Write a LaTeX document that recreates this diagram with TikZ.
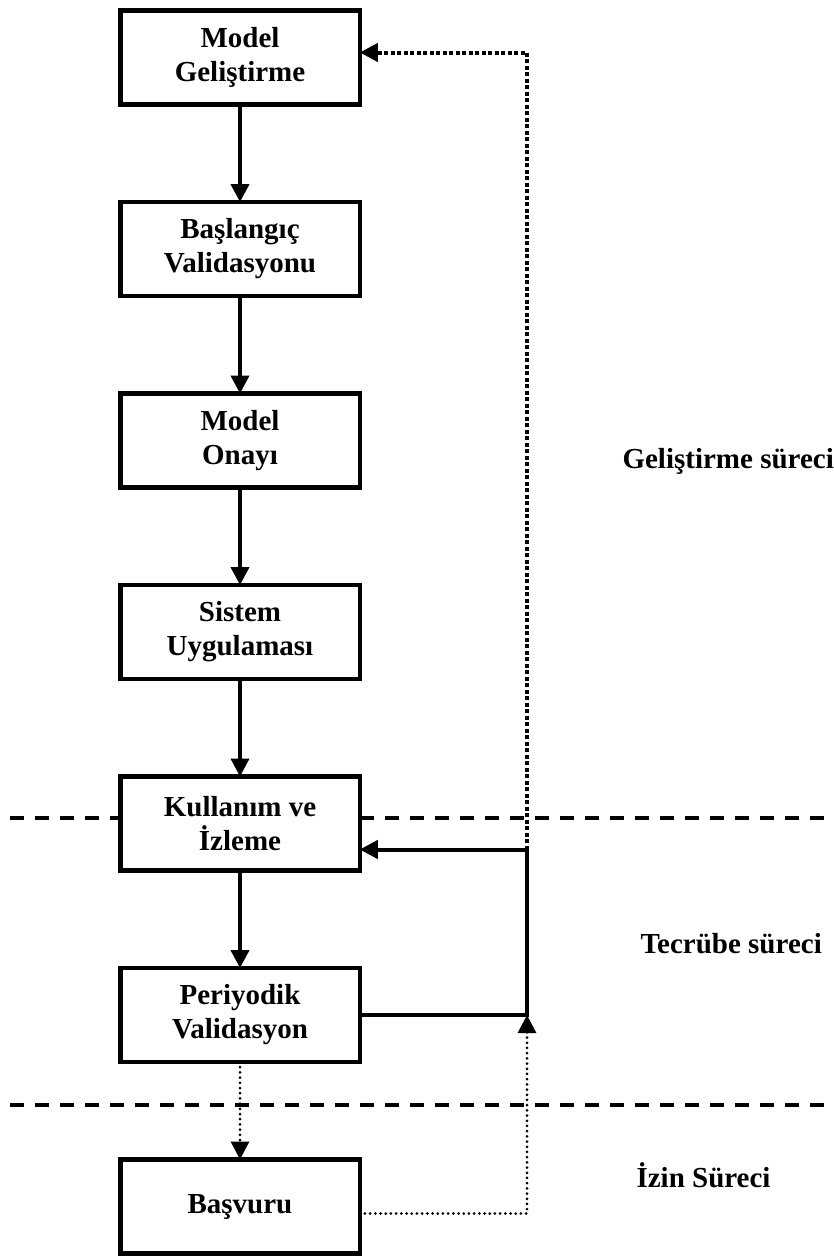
\documentclass[tikz,border=0pt]{standalone}
\usepackage{fontspec}
\setmainfont{Liberation Serif}
\usepackage{xcolor}
\usepackage{tikz}
\usetikzlibrary{arrows.meta, chains, positioning}

\begin{document}
\begin{tikzpicture}[
            x=1pt, y=-1pt,
            start chain=going below,
            node distance=97.5pt,
            font=\fontsize{29}{34}\selectfont\bfseries,
            box/.style={
                draw,
                fill=white,
                line width=4.5pt,
                minimum width=239.5pt,
                minimum height=94pt,
                on chain,
                inner sep=0pt,
                outer sep=0pt,
                align=center
  },
  arr/.style={
    -{Triangle[length=18pt,width=18pt]},
    line width=4pt
  },
  thickdots/.style={
    arr,
    dash pattern=on 4pt off 2.5pt
  },
  thindots/.style={
    -{Triangle[length=18pt,width=18pt]},
    line width=3pt,
    line cap=round,
    dash pattern=on 0pt off 5.2pt
  },
  sep/.style={
    line width=4pt,
    dash pattern=on 14pt off 11pt
  }
]
\useasboundingbox (0,0) rectangle (834,1258);

% Separators (behind the boxes)
\draw [sep] (10,818) -- (834,818);
\draw [sep] (10,1105) -- (834,1105);

% Boxes
\node [box] at (240,57.5) (mg) {Model\\Geliştirme};
\node [box] (bv) {Başlangıç\\Validasyonu};
\node [box] (mo) {Model\\Onayı};
\node [box] (su) {Sistem\\Uygulaması};
\node [box] (ki) {Kullanım ve\\İzleme};
\node [box] (pv) {Periyodik\\Validasyon};
\node [box] (bs) {Başvuru};

% Labels of the phases
\node [anchor=base west] at (619,468) (gs) {Geliştirme süreci};
\node [anchor=base west] at (637,953) (ts) {Tecrübe süreci};
\node [anchor=base west] at (633,1187) (is) {İzin Süreci};

% Main flow
\draw [arr] (mg) -- (bv);
\draw [arr] (bv) -- (mo);
\draw [arr] (mo) -- (su);
\draw [arr] (su) -- (ki);
\draw [arr] (ki) -- (pv);
\draw [thindots] (pv) -- (bs);

% Feedback loops
\coordinate (rail) at (527,0);
\coordinate (kin) at ([yshift=-26pt]ki.east);
\coordinate (min) at ([yshift=5pt]mg.east);
\coordinate (bout) at ([yshift=-7pt]bs.east);

\draw [arr] (pv.east) -| (kin -| rail) -- (kin);
\draw [thickdots] (kin -| rail) |- (min);
\draw [thindots] (bout) -| (pv.east -| rail);

\end{tikzpicture}
\end{document}
